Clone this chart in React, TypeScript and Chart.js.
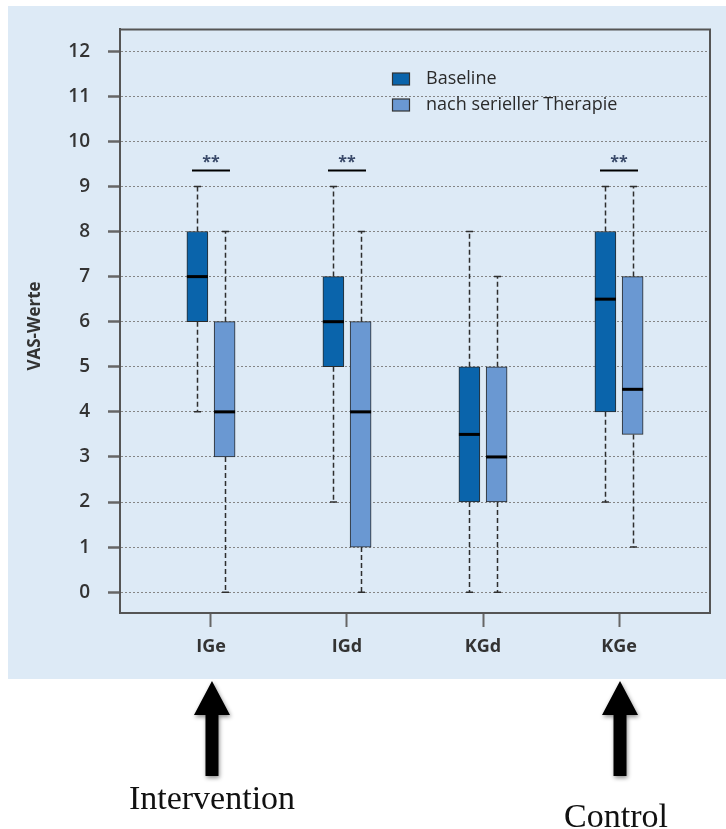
import React, { useEffect, useRef } from 'react';
import { Chart, registerables } from 'chart.js';

Chart.register(...registerables);

// ---------- data ----------
const categories = ['IGe', 'IGd', 'KGd', 'KGe'];
const yTickValues = [0, 1, 2, 3, 4, 5, 6, 7, 8, 9, 10, 11, 12];
const seriesNames = ['Baseline', 'nach serieller Therapie'];

const baselineMin = [4, 2, 0, 2];
const baselineQ1 = [6, 5, 2, 4];
const baselineMedian = [7, 6, 3.5, 6.5];
const baselineQ3 = [8, 7, 5, 8];
const baselineMax = [9, 9, 8, 9];

const afterMin = [0, 0, 0, 1];
const afterQ1 = [3, 1, 2, 3.5];
const afterMedian = [4, 4, 3, 4.5];
const afterQ3 = [6, 6, 5, 7];
const afterMax = [8, 8, 7, 9];

const significance = ['**', '**', '', '**'];
const yAxisTitle = 'VAS-Werte';
const arrowCategoryIndex = [0, 3];
const arrowTexts = ['Intervention', 'Control'];

// ---------- style ----------
const PANEL_BG = '#ddeaf6';
const BASE_COLOR = '#0a64ab';
const AFTER_COLOR = '#6a98d2';
const FRAME = '#555555';
const TEXT = '#333333';
const SANS = '"Open Sans", "Noto Sans", sans-serif';
const OFFSET = 0.1;

const boxes = [
  { label: seriesNames[0], color: BASE_COLOR, min: baselineMin, q1: baselineQ1, med: baselineMedian, q3: baselineQ3, max: baselineMax, offset: -OFFSET },
  { label: seriesNames[1], color: AFTER_COLOR, min: afterMin, q1: afterQ1, med: afterMedian, q3: afterQ3, max: afterMax, offset: OFFSET },
];

const decor = {
  id: 'decor',
  beforeDraw(chart: any) {
    const { ctx, width, height } = chart;
    ctx.save();
    ctx.fillStyle = '#ffffff';
    ctx.fillRect(0, 0, width, height);
    ctx.fillStyle = PANEL_BG;
    ctx.fillRect(8, 6, width - 8, 673);
    ctx.restore();
  },
  beforeDatasetsDraw(chart: any) {
    const { ctx } = chart;
    const xs = chart.scales.x;
    const ys = chart.scales.y;
    ctx.save();
    ctx.strokeStyle = '#2e2e2e';
    ctx.lineWidth = 1.5;
    boxes.forEach((b) => {
      categories.forEach((_, i) => {
        const px = Math.round(xs.getPixelForValue(i + 1 + b.offset)) + 0.5;
        const yMin = ys.getPixelForValue(b.min[i]);
        const yQ1 = ys.getPixelForValue(b.q1[i]);
        const yQ3 = ys.getPixelForValue(b.q3[i]);
        const yMax = ys.getPixelForValue(b.max[i]);
        ctx.setLineDash([5, 3]);
        ctx.beginPath();
        ctx.moveTo(px, yQ1);
        ctx.lineTo(px, yMin);
        ctx.moveTo(px, yQ3);
        ctx.lineTo(px, yMax);
        ctx.stroke();
        ctx.setLineDash([]);
        ctx.beginPath();
        ctx.moveTo(px - 3.5, yMin);
        ctx.lineTo(px + 3.5, yMin);
        ctx.moveTo(px - 3.5, yMax);
        ctx.lineTo(px + 3.5, yMax);
        ctx.stroke();
      });
    });
    ctx.restore();
  },
  afterDatasetsDraw(chart: any) {
    const { ctx, chartArea } = chart;
    const xs = chart.scales.x;
    const ys = chart.scales.y;
    ctx.save();
    // medians
    boxes.forEach((b, d) => {
      const meta = chart.getDatasetMeta(d);
      categories.forEach((_, i) => {
        const el = meta.data[i];
        const py = ys.getPixelForValue(b.med[i]);
        ctx.fillStyle = '#000000';
        ctx.fillRect(el.x - el.width / 2, py - 1.5, el.width, 3);
      });
    });
    // significance marks
    categories.forEach((_, i) => {
      if (!significance[i]) return;
      const cx = xs.getPixelForValue(i + 1);
      const top = ys.getPixelForValue(Math.max(baselineMax[i], afterMax[i]));
      const ly = top - 16;
      ctx.strokeStyle = '#000000';
      ctx.lineWidth = 2;
      ctx.beginPath();
      ctx.moveTo(cx - 19, ly);
      ctx.lineTo(cx + 19, ly);
      ctx.stroke();
      ctx.fillStyle = '#3a4a6a';
      ctx.font = `bold 16px ${SANS}`;
      ctx.textAlign = 'center';
      ctx.textBaseline = 'middle';
      ctx.fillText(significance[i], cx, ly - 8);
    });
    // frame top & right
    ctx.strokeStyle = FRAME;
    ctx.lineWidth = 2;
    ctx.beginPath();
    ctx.moveTo(chartArea.left, chartArea.top);
    ctx.lineTo(chartArea.right, chartArea.top);
    ctx.lineTo(chartArea.right, chartArea.bottom);
    ctx.stroke();
    // legend
    boxes.forEach((b, d) => {
      const ty = 79 + d * 26;
      ctx.fillStyle = b.color;
      ctx.fillRect(392.5, ty - 6, 17, 12);
      ctx.strokeStyle = '#333333';
      ctx.lineWidth = 1.2;
      ctx.strokeRect(392.5, ty - 6, 17, 12);
      ctx.fillStyle = '#2a2a2a';
      ctx.font = `18px ${SANS}`;
      ctx.textAlign = 'left';
      ctx.textBaseline = 'middle';
      ctx.fillText(b.label, 426, ty);
    });
    // y title
    ctx.translate(35, 326);
    ctx.rotate(-Math.PI / 2);
    ctx.fillStyle = TEXT;
    ctx.font = `bold 17px ${SANS}`;
    ctx.textAlign = 'center';
    ctx.textBaseline = 'middle';
    ctx.fillText(yAxisTitle, 0, 0);
    ctx.restore();
  },
  afterDraw(chart: any) {
    const { ctx } = chart;
    const xs = chart.scales.x;
    const textBaselines = [809, 827];
    const textShift = [0, -4];
    ctx.save();
    arrowCategoryIndex.forEach((ci, k) => {
      const cx = xs.getPixelForValue(ci + 1) + 1;
      ctx.save();
      ctx.shadowColor = 'rgba(0,0,0,0.45)';
      ctx.shadowBlur = 4;
      ctx.shadowOffsetX = 1;
      ctx.shadowOffsetY = 2;
      ctx.fillStyle = '#000000';
      ctx.beginPath();
      ctx.moveTo(cx, 681);
      ctx.lineTo(cx + 18, 715);
      ctx.lineTo(cx + 6.5, 715);
      ctx.lineTo(cx + 6.5, 776);
      ctx.lineTo(cx - 6.5, 776);
      ctx.lineTo(cx - 6.5, 715);
      ctx.lineTo(cx - 18, 715);
      ctx.closePath();
      ctx.fill();
      ctx.restore();
      ctx.fillStyle = '#111111';
      ctx.font = `34px "Liberation Serif", serif`;
      ctx.textAlign = 'center';
      ctx.textBaseline = 'alphabetic';
      ctx.fillText(arrowTexts[k], cx + textShift[k], textBaselines[k]);
    });
    ctx.restore();
  },
};

export default function App() {
  const ref = useRef<HTMLCanvasElement>(null);
  useEffect(() => {
    const chart = new Chart(ref.current as HTMLCanvasElement, {
      type: 'bar',
      data: {
        datasets: boxes.map((b) => ({
          label: b.label,
          data: categories.map((_, i) => ({ x: i + 1 + b.offset, y: [b.q1[i], b.q3[i]] })),
          backgroundColor: b.color,
          borderColor: '#2a2a2a',
          borderWidth: 1,
          borderSkipped: false,
          barThickness: 21,
          grouped: false,
        })) as any,
      },
      options: {
        responsive: false,
        animation: false,
        devicePixelRatio: 1,
        layout: { padding: { left: 0, top: 24, right: 16, bottom: 0 } },
        plugins: { legend: { display: false }, tooltip: { enabled: false } },
        scales: {
          x: {
            type: 'linear',
            min: 0.331,
            max: 4.669,
            offset: false,
            afterBuildTicks: (s: any) => {
              s.ticks = categories.map((_, i) => ({ value: i + 1 }));
            },
            afterFit: (s: any) => {
              s.height = 216;
            },
            grid: { display: true, drawOnChartArea: false, drawTicks: true, tickLength: 14, tickColor: '#666666', tickWidth: 2, offset: false },
            border: { display: true, color: FRAME, width: 2 },
            ticks: {
              callback: (v: any) => categories[Math.round(Number(v)) - 1] ?? '',
              font: { family: SANS, size: 18, weight: 'bold' },
              color: TEXT,
              padding: 9,
              maxRotation: 0,
              autoSkip: false,
            },
          },
          y: {
            type: 'linear',
            min: -0.4615,
            max: 12.4835,
            afterBuildTicks: (s: any) => {
              s.ticks = yTickValues.map((v) => ({ value: v }));
            },
            afterFit: (s: any) => {
              s.width = 120;
            },
            grid: { color: '#858585', lineWidth: 1, tickLength: 12, tickColor: '#666666', tickWidth: 2.5 },
            border: { display: true, color: FRAME, width: 2, dash: [2, 2] },
            ticks: {
              font: { family: SANS, size: 19, weight: '600' },
              color: TEXT,
              padding: 18,
            },
          },
        } as any,
      },
      plugins: [decor],
    });
    return () => chart.destroy();
  }, []);
  return (
    <div style={{ position: 'absolute', left: 0, top: 0, width: 726, height: 829 }}>
      <canvas ref={ref} width={726} height={829} style={{ display: 'block', width: 726, height: 829 }} />
    </div>
  );
}
